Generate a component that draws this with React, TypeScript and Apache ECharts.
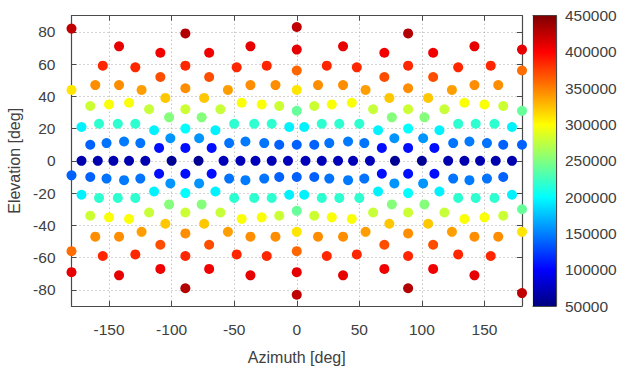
import React, { useEffect, useRef } from 'react';
import * as echarts from 'echarts';

// ---- axis ticks ----
const azimuthTicks = [-150, -100, -50, 0, 50, 100, 150];
const elevationTicks = [-80, -60, -40, -20, 0, 20, 40, 60, 80];
const colorMin = 50000;
const colorMax = 450000;
const colorStep = 50000;
const jetColors = ['#000080', '#0000ff', '#0080ff', '#00ffff', '#80ff80', '#ffff00', '#ff8000', '#ff0000', '#800000'];

// ---- data: [azimuth, elevation, value] ----
const northPoints: number[][] = [
  [0, 83, 425000], [-180, 82, 425000], [-89, 79, 430000], [89, 79, 430000],
  [-142, 71, 410000], [-37, 71, 410000], [37, 71, 410000], [142, 71, 410000],
  [0, 69, 410000], [180, 69, 410000],
  [-109, 67, 405000], [-70, 67, 405000], [70, 67, 405000], [109, 67, 405000],
  [-155, 59, 385000], [-89, 59, 385000], [-24, 59, 385000], [24, 59, 385000], [89, 59, 385000], [155, 59, 385000],
  [-129, 58, 385000], [-48, 58, 385000], [48, 58, 385000], [129, 58, 385000],
  [0, 56, 360000], [180, 56, 358000],
  [-109, 52, 370000], [-70, 52, 370000], [70, 52, 370000], [109, 52, 370000],
  [-161, 47, 345000], [-142, 47, 345000], [-37, 47, 345000], [-17, 47, 345000], [17, 47, 345000], [37, 47, 345000], [142, 47, 345000], [161, 47, 345000],
  [-89, 45, 345000], [89, 45, 345000],
  [-180, 44, 310000], [-124, 44, 338000], [-55, 44, 338000], [0, 44, 310000], [55, 44, 338000], [124, 44, 338000],
  [-105, 39, 322000], [-74, 39, 322000], [74, 39, 322000], [105, 39, 322000],
  [-134, 36, 298000], [-44, 36, 298000], [44, 36, 298000], [134, 36, 298000],
  [-150, 35, 298000], [-28, 35, 298000], [28, 35, 298000], [150, 35, 298000],
  [-165, 34, 280000], [-14, 34, 280000], [14, 34, 280000], [165, 34, 280000],
  [-118, 32, 278000], [-89, 32, 280000], [-61, 32, 278000], [61, 32, 278000], [89, 32, 280000], [118, 32, 278000],
  [0, 31, 240000], [180, 31, 240000],
  [-102, 27, 252000], [-76, 27, 252000], [76, 27, 252000], [102, 27, 252000],
  [-158, 23, 218000], [-143, 23, 218000], [-129, 23, 218000], [-50, 23, 218000], [-34, 23, 218000], [-20, 23, 218000],
  [20, 23, 218000], [34, 23, 218000], [50, 23, 218000], [129, 23, 218000], [143, 23, 218000], [158, 23, 218000],
  [-172, 21, 195000], [-6, 21, 195000], [6, 21, 195000], [172, 21, 195000],
  [-89, 20, 200000], [89, 20, 200000],
  [-114, 19, 195000], [-65, 19, 195000], [65, 19, 195000], [114, 19, 195000],
  [-101, 14, 158000], [-78, 14, 158000], [78, 14, 158000], [101, 14, 158000],
  [-138, 12, 148000], [-41, 12, 148000], [41, 12, 148000], [138, 12, 148000],
  [-152, 11, 145000], [-125, 11, 145000], [-54, 11, 145000], [-26, 11, 145000], [26, 11, 145000], [54, 11, 145000], [125, 11, 145000], [152, 11, 145000],
  [-165, 10, 138000], [-14, 10, 138000], [0, 10, 138000], [14, 10, 138000], [165, 10, 138000], [180, 10, 138000],
  [-110, 8, 105000], [-89, 8, 105000], [-68, 8, 105000], [68, 8, 105000], [89, 8, 105000], [110, 8, 105000],
];

const equatorPoints: number[][] = [
  [-172, 0, 68000], [-159, 0, 68000], [-146.5, 0, 68000], [-134, 0, 68000], [-121, 0, 68000],
  [-100, 0, 58000], [-78.5, 0, 58000],
  [-58.5, 0, 72000], [-45, 0, 72000], [-33, 0, 72000], [-20, 0, 72000], [-7, 0, 72000],
  [7, 0, 72000], [20, 0, 72000], [33, 0, 72000], [45, 0, 72000], [58.5, 0, 72000],
  [78.5, 0, 58000], [100, 0, 58000],
  [121, 0, 68000], [134, 0, 68000], [146.5, 0, 68000], [159, 0, 68000], [172, 0, 68000],
];

const southPoints: number[][] = [
  [-110, -8, 105000], [-89, -8, 105000], [-68, -8, 105000], [68, -8, 105000], [89, -8, 105000], [110, -8, 105000],
  [-180, -9, 138000], [-165, -10, 138000], [-14, -10, 138000], [0, -10, 138000], [14, -10, 138000], [165, -10, 138000],
  [-152, -11, 145000], [-125, -11, 145000], [-54, -11, 145000], [-26, -11, 145000], [26, -11, 145000], [54, -11, 145000], [125, -11, 145000], [152, -11, 145000],
  [-138, -12, 148000], [-41, -12, 148000], [41, -12, 148000], [138, -12, 148000],
  [-101, -14, 158000], [-78, -14, 158000], [78, -14, 158000], [101, -14, 158000],
  [-114, -19, 195000], [-65, -19, 195000], [65, -19, 195000], [114, -19, 195000],
  [-89, -20, 200000], [89, -20, 200000],
  [-172, -21, 195000], [-6, -21, 195000], [6, -21, 195000], [172, -21, 195000],
  [-158, -23, 218000], [-143, -23, 218000], [-129, -23, 218000], [-50, -23, 218000], [-34, -23, 218000], [-20, -23, 218000],
  [20, -23, 218000], [34, -23, 218000], [50, -23, 218000], [129, -23, 218000], [143, -23, 218000], [158, -23, 218000],
  [-102, -27, 252000], [-76, -27, 252000], [76, -27, 252000], [102, -27, 252000],
  [0, -31, 240000], [180, -30, 240000],
  [-118, -32, 278000], [-89, -32, 280000], [-61, -32, 278000], [61, -32, 278000], [89, -32, 280000], [118, -32, 278000],
  [-165, -34, 280000], [-14, -34, 280000], [14, -34, 280000], [165, -34, 280000],
  [-150, -35, 298000], [-28, -35, 298000], [28, -35, 298000], [150, -35, 298000],
  [-134, -36, 298000], [-44, -36, 298000], [44, -36, 298000], [134, -36, 298000],
  [-105, -39, 322000], [-74, -39, 322000], [74, -39, 322000], [105, -39, 322000],
  [180, -44, 310000], [-124, -44, 338000], [-55, -44, 338000], [0, -44, 310000], [55, -44, 338000], [124, -44, 338000],
  [-89, -45, 345000], [89, -45, 345000],
  [-161, -47, 345000], [-142, -47, 345000], [-37, -47, 345000], [-17, -47, 345000], [17, -47, 345000], [37, -47, 345000], [142, -47, 345000], [161, -47, 345000],
  [-109, -52, 370000], [-70, -52, 370000], [70, -52, 370000], [109, -52, 370000],
  [0, -56, 360000], [-180, -56, 358000],
  [-129, -58, 385000], [-48, -58, 385000], [48, -58, 385000], [129, -58, 385000],
  [-155, -59, 385000], [-89, -59, 385000], [-24, -59, 385000], [24, -59, 385000], [89, -59, 385000], [155, -59, 385000],
  [-109, -67, 405000], [-70, -67, 405000], [70, -67, 405000], [109, -67, 405000],
  [0, -69, 410000], [-180, -69, 410000],
  [-142, -71, 410000], [-37, -71, 410000], [37, -71, 410000], [142, -71, 410000],
  [-89, -79, 430000], [89, -79, 430000], [0, -83, 425000], [180, -82, 425000],
];

const FONT = "'Liberation Sans', Arial, sans-serif";
const TEXT = '#404040';
const FRAME = '#4a4a4a';

export default function App() {
  const ref = useRef<HTMLDivElement>(null);

  useEffect(() => {
    if (!ref.current) return;
    const chart = echarts.init(ref.current, undefined, { renderer: 'svg' });

    const frameLine = { show: true, onZero: false, lineStyle: { color: FRAME, width: 1.2 } };
    const inTick = (values: number[]) => ({
      show: true, inside: true, length: 5, customValues: values, lineStyle: { color: FRAME, width: 1 },
    });
    const dotted = { show: true, lineStyle: { color: '#a8a8a8', width: 1, type: [1, 3] as number[] } };

    const colorbarTicks: number[] = [];
    for (let v = colorMin; v <= colorMax; v += colorStep) colorbarTicks.push(v);

    const gradientStops = jetColors.map((c, i) => ({ offset: i / (jetColors.length - 1), color: c }));

    const allPoints = [...northPoints, ...equatorPoints, ...southPoints];

    chart.setOption({
      animation: false,
      backgroundColor: '#ffffff',
      textStyle: { fontFamily: FONT },
      grid: [
        { left: 71.5, right: 99, top: 15.7, bottom: 65, outerBoundsMode: 'none', containLabel: false },
        { left: 533, width: 23, top: 15.7, height: 290.3, outerBoundsMode: 'none', containLabel: false },
      ],
      visualMap: {
        type: 'continuous', show: false, min: colorMin, max: colorMax, dimension: 2, seriesIndex: 0,
        inRange: { color: jetColors },
      },
      xAxis: [
        {
          type: 'value', gridIndex: 0, position: 'bottom', min: -180, max: 180,
          axisLine: frameLine,
          axisTick: inTick(azimuthTicks),
          axisLabel: { customValues: azimuthTicks, color: TEXT, fontSize: 15.5, margin: 15, fontFamily: FONT },
          splitLine: dotted,
          name: 'Azimuth [deg]', nameLocation: 'middle', nameGap: 43,
          nameTextStyle: { color: TEXT, fontSize: 16, fontFamily: FONT },
        },
        {
          type: 'value', gridIndex: 0, position: 'top', min: -180, max: 180,
          axisLine: frameLine, axisTick: inTick(azimuthTicks),
          axisLabel: { show: false }, splitLine: { show: false },
        },
        {
          type: 'category', gridIndex: 1, position: 'bottom', data: ['c'],
          axisLine: frameLine, axisTick: { show: false }, axisLabel: { show: false }, splitLine: { show: false },
        },
        {
          type: 'category', gridIndex: 1, position: 'top', data: ['c'],
          axisLine: frameLine, axisTick: { show: false }, axisLabel: { show: false }, splitLine: { show: false },
        },
      ],
      yAxis: [
        {
          type: 'value', gridIndex: 0, position: 'left', min: -90, max: 90,
          axisLine: frameLine, axisTick: inTick(elevationTicks),
          axisLabel: { customValues: elevationTicks, color: TEXT, fontSize: 15.5, margin: 16, fontFamily: FONT },
          splitLine: dotted,
          name: 'Elevation [deg]', nameLocation: 'middle', nameGap: 44,
          nameTextStyle: { color: TEXT, fontSize: 16, fontFamily: FONT },
        },
        {
          type: 'value', gridIndex: 0, position: 'right', min: -90, max: 90,
          axisLine: frameLine, axisTick: inTick(elevationTicks),
          axisLabel: { show: false }, splitLine: { show: false },
        },
        {
          type: 'value', gridIndex: 1, position: 'right', min: colorMin, max: colorMax, interval: colorStep,
          axisLine: frameLine,
          axisTick: { show: true, inside: true, length: 4, lineStyle: { color: FRAME } },
          axisLabel: { color: TEXT, fontSize: 15.5, margin: 9, fontFamily: FONT, formatter: (v: number) => String(v) },
          splitLine: { show: false },
        },
        {
          type: 'value', gridIndex: 1, position: 'left', min: colorMin, max: colorMax, interval: colorStep,
          axisLine: frameLine,
          axisTick: { show: true, inside: true, length: 4, lineStyle: { color: FRAME } },
          axisLabel: { show: false }, splitLine: { show: false },
        },
      ],
      series: [
        {
          type: 'scatter', xAxisIndex: 0, yAxisIndex: 0, data: allPoints,
          symbol: 'circle', symbolSize: 10, itemStyle: { opacity: 1 },
        },
        {
          type: 'bar', xAxisIndex: 2, yAxisIndex: 2, stack: 'cb', barWidth: '100%',
          data: [colorMin], itemStyle: { color: 'rgba(0,0,0,0)' }, silent: true,
        },
        {
          type: 'bar', xAxisIndex: 2, yAxisIndex: 2, stack: 'cb', barWidth: '100%',
          data: [colorMax - colorMin], silent: true,
          itemStyle: { color: new echarts.graphic.LinearGradient(0, 1, 0, 0, gradientStops) },
        },
      ],
    });

    return () => chart.dispose();
  }, []);

  return <div ref={ref} style={{ position: 'absolute', left: 0, top: 0, width: 621, height: 371, background: '#fff' }} />;
}
